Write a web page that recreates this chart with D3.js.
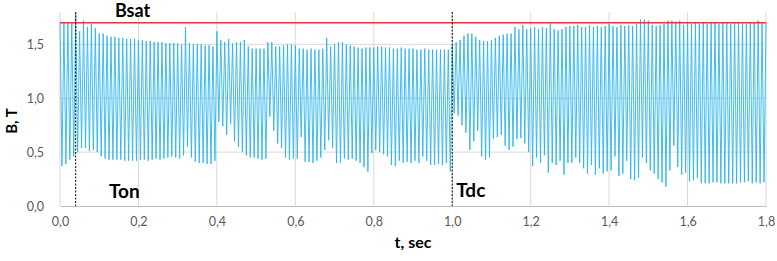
<!DOCTYPE html>
<html lang="en">
<head>
    <meta charset="UTF-8">
    <title>B(t)</title>
    <style>
      body { margin: 0; background: #fff; }
      text { font-family: Lato, "Liberation Sans", sans-serif; }
      .tick text { fill: #595959; font-size: 12.5px; }
      .lbl { font-weight: bold; fill: #000; }
    </style>
</head>
<body>
<svg height="261" width="777"></svg>

<script src="https://d3js.org/d3.v7.min.js"></script>
<script>

  // one peak and one trough per 0.01 s cycle
  var peaks = [
    1.70, 1.70, 1.70, 1.70, 1.79, 1.62, 1.72, 1.66, 1.69, 1.65,
    1.60, 1.60, 1.58, 1.57, 1.57, 1.56, 1.56, 1.55, 1.55, 1.55,
    1.54, 1.54, 1.53, 1.53, 1.52, 1.52, 1.52, 1.51, 1.51, 1.51,
    1.51, 1.50, 1.66, 1.51, 1.50, 1.50, 1.50, 1.49, 1.49, 1.48,
    1.62, 1.54, 1.52, 1.55, 1.51, 1.52, 1.52, 1.54, 1.48, 1.46,
    1.46, 1.46, 1.46, 1.52, 1.52, 1.48, 1.48, 1.49, 1.50, 1.50,
    1.49, 1.46, 1.46, 1.45, 1.46, 1.45, 1.45, 1.46, 1.56, 1.48,
    1.50, 1.52, 1.52, 1.50, 1.49, 1.48, 1.47, 1.46, 1.47, 1.47,
    1.47, 1.48, 1.48, 1.47, 1.47, 1.46, 1.46, 1.47, 1.46, 1.46,
    1.46, 1.45, 1.45, 1.46, 1.45, 1.45, 1.45, 1.45, 1.45, 1.45,
    1.49, 1.52, 1.54, 1.58, 1.60, 1.60, 1.57, 1.54, 1.53, 1.53,
    1.54, 1.56, 1.58, 1.59, 1.60, 1.60, 1.66, 1.64, 1.68, 1.64,
    1.65, 1.66, 1.64, 1.66, 1.65, 1.70, 1.64, 1.63, 1.64, 1.66,
    1.67, 1.67, 1.68, 1.66, 1.66, 1.68, 1.66, 1.67, 1.66, 1.67,
    1.69, 1.67, 1.66, 1.68, 1.67, 1.68, 1.67, 1.69, 1.73, 1.73,
    1.72, 1.68, 1.67, 1.68, 1.69, 1.72, 1.72, 1.71, 1.72, 1.68,
    1.70, 1.69, 1.70, 1.69, 1.70, 1.69, 1.70, 1.70, 1.69, 1.70,
    1.70, 1.69, 1.70, 1.70, 1.70, 1.69, 1.70, 1.70, 1.72, 1.70,
    1.70
  ];

  var troughs = [
    0.37, 0.39, 0.43, 0.46, 0.50, 0.54, 0.54, 0.51, 0.52, 0.50,
    0.46, 0.44, 0.43, 0.43, 0.43, 0.43, 0.42, 0.42, 0.42, 0.42,
    0.43, 0.43, 0.42, 0.43, 0.44, 0.43, 0.44, 0.45, 0.46, 0.45,
    0.44, 0.47, 0.55, 0.45, 0.41, 0.40, 0.40, 0.39, 0.39, 0.42,
    0.78, 0.74, 0.66, 0.76, 0.60, 0.55, 0.50, 0.47, 0.45, 0.45,
    0.44, 0.43, 0.44, 0.83, 0.70, 0.58, 0.54, 0.45, 0.43, 0.44,
    0.44, 0.64, 0.41, 0.41, 0.40, 0.42, 0.45, 0.52, 0.61, 0.54,
    0.40, 0.40, 0.44, 0.43, 0.44, 0.42, 0.40, 0.36, 0.32, 0.49,
    0.52, 0.50, 0.48, 0.46, 0.38, 0.37, 0.42, 0.40, 0.41, 0.40,
    0.42, 0.40, 0.46, 0.42, 0.38, 0.38, 0.39, 0.38, 0.40, 0.32,
    0.86, 0.84, 0.75, 0.68, 0.52, 0.60, 0.70, 0.46, 0.43, 0.45,
    0.62, 0.64, 0.66, 0.56, 0.52, 0.55, 0.62, 0.63, 0.58, 0.50,
    0.37, 0.45, 0.40, 0.47, 0.31, 0.40, 0.38, 0.42, 0.29, 0.40,
    0.40, 0.45, 0.40, 0.35, 0.30, 0.38, 0.29, 0.35, 0.30, 0.32,
    0.33, 0.46, 0.28, 0.30, 0.42, 0.25, 0.24, 0.26, 0.45, 0.40,
    0.33, 0.30, 0.25, 0.22, 0.18, 0.33, 0.56, 0.36, 0.29, 0.31,
    0.23, 0.24, 0.26, 0.21, 0.21, 0.21, 0.22, 0.22, 0.21, 0.21,
    0.21, 0.21, 0.21, 0.22, 0.22, 0.23, 0.21, 0.22, 0.21, 0.22
  ];

  var cycle = 0.01;           // s per cycle
  var bsat = 1.7;
  var tOn = 0.04;
  var tDc = 1.0;
  var xTicks = [0, 0.2, 0.4, 0.6, 0.8, 1.0, 1.2, 1.4, 1.6, 1.8];
  var yTicks = [0, 0.5, 1.0, 1.5];

  var margins = {top: 12, right: 11, bottom: 55, left: 60};
  var svg = d3.select("svg");
  var width = +svg.attr("width") - margins.left - margins.right;
  var height = +svg.attr("height") - margins.top - margins.bottom;

  var g = svg.append("g")
    .attr("transform", "translate(" + margins.left + "," + margins.top + ")");

  var x = d3.scaleLinear().domain([0, 1.8]).range([0, width]);
  var y = d3.scaleLinear().domain([0, 1.8]).range([height, 0]);

  var fmt = function(d) { return d3.format(".1f")(d).replace(".", ","); };

  // grid
  g.append("g").selectAll("line")
    .data(xTicks)
    .enter().append("line")
    .attr("x1", x).attr("x2", x)
    .attr("y1", 0).attr("y2", height)
    .attr("stroke", "#d9d9d9");

  g.append("g").selectAll("line")
    .data(yTicks.slice(1))
    .enter().append("line")
    .attr("x1", 0).attr("x2", width)
    .attr("y1", y).attr("y2", y)
    .attr("stroke", "#d9d9d9");

  // series: peak at start of each cycle, trough half a cycle later
  var pts = [];
  peaks.forEach(function(p, i) {
    pts.push([i * cycle, p]);
    if (i < troughs.length) pts.push([i * cycle + cycle / 2, troughs[i]]);
  });

  g.append("path")
    .datum(pts)
    .attr("fill", "none")
    .attr("stroke", "#2db4ea")
    .attr("stroke-width", 0.9)
    .attr("d", d3.line()
      .x(function(d) { return x(d[0]); })
      .y(function(d) { return y(d[1]); }));

  g.append("line")
    .attr("x1", 0).attr("x2", width)
    .attr("y1", y(bsat)).attr("y2", y(bsat))
    .attr("stroke", "#ee3145")
    .attr("stroke-width", 1.5);

  [tOn, tDc].forEach(function(t) {
    g.append("line")
      .attr("x1", x(t)).attr("x2", x(t))
      .attr("y1", 0).attr("y2", height)
      .attr("stroke", "#000")
      .attr("stroke-width", 1)
      .attr("stroke-dasharray", "2,1.5");
  });

  // axes
  var xAxis = d3.axisBottom(x).tickValues(xTicks).tickFormat(fmt).tickSize(0).tickPadding(11);
  var gx = g.append("g")
    .attr("transform", "translate(0," + height + ")")
    .call(xAxis);
  gx.select(".domain").attr("stroke", "#bfbfbf");

  var yAxis = d3.axisLeft(y).tickValues(yTicks).tickFormat(fmt).tickSize(0).tickPadding(16);
  var gy = g.append("g").call(yAxis);
  gy.select(".domain").remove();
  gx.selectAll("text").attr("font-family", null);
  gy.selectAll("text").attr("font-family", null);

  // labels
  g.append("text").attr("class", "lbl")
    .attr("x", x(0.185)).attr("y", 5)
    .attr("text-anchor", "middle")
    .style("font-size", "18px")
    .text("Bsat");

  g.append("text").attr("class", "lbl")
    .attr("x", x(0.164)).attr("y", height - 8)
    .attr("text-anchor", "middle")
    .style("font-size", "19px")
    .text("Ton");

  g.append("text").attr("class", "lbl")
    .attr("x", x(tDc) + 4).attr("y", height - 9)
    .style("font-size", "19px")
    .text("Tdc");

  g.append("text").attr("class", "lbl")
    .attr("x", width / 2).attr("y", height + 42)
    .attr("text-anchor", "middle")
    .style("font-size", "16px")
    .text("t, sec");

  g.append("text").attr("class", "lbl")
    .attr("transform", "translate(-43," + (height / 2 + 12) + ") rotate(-90)")
    .attr("text-anchor", "middle")
    .style("font-size", "15px")
    .text("B,  T");

</script>
</body>
</html>
